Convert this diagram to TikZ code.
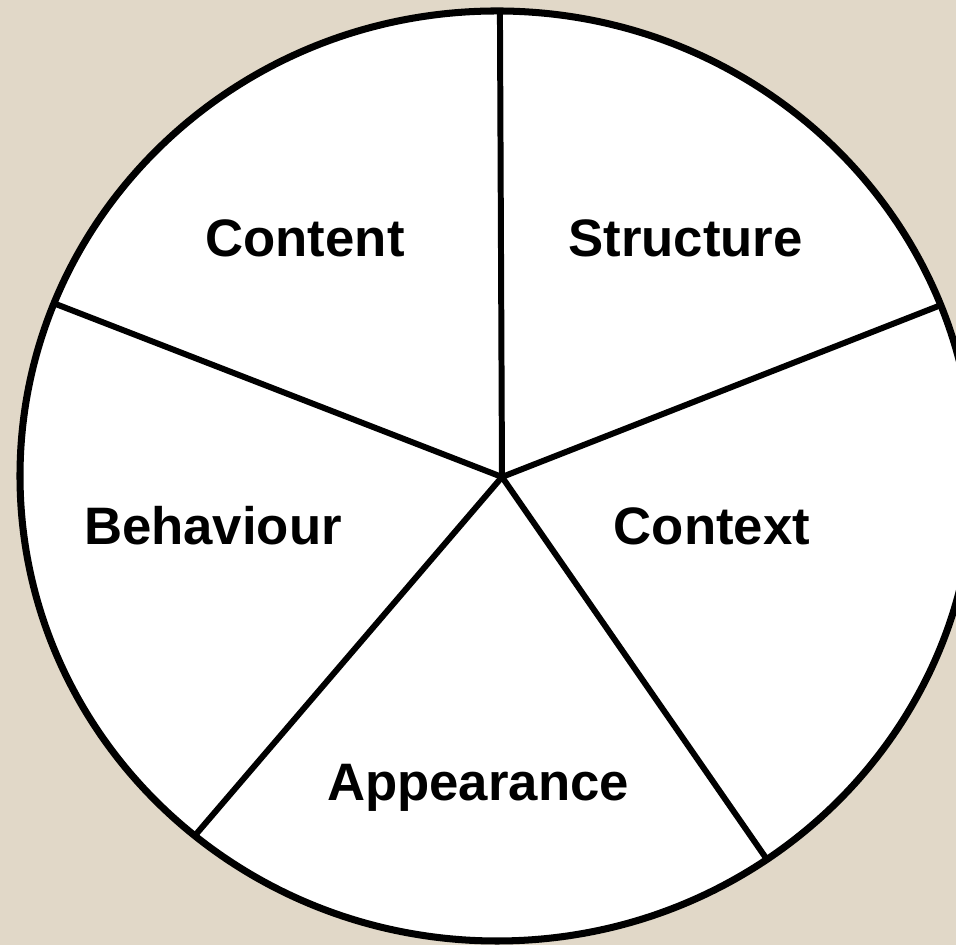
\documentclass[tikz,border=0pt]{standalone}
\usepackage{fontspec}
\setmainfont{Liberation Sans}
\usepackage{tikz}
\usetikzlibrary{positioning}
\definecolor{tanbg}{RGB}{225,216,200}

\begin{document}
\begin{tikzpicture}
        [every node/.style={font=\fontsize{15}{18}\selectfont\bfseries,anchor=base},
         rim/.style={line width=2pt},
         spoke/.style={line width=1.7pt}]
        \clip (0,0) rectangle (9.56,9.45);
        \fill[tanbg] (0,0) rectangle (9.56,9.45);
        \fill[white] (4.97,4.69) ellipse [x radius=4.77, y radius=4.65];

        \coordinate (hub) at (5.02, 4.68);
        \coordinate (top) at (4.998, 9.6);
        \coordinate (uright) at (9.59, 6.47);
        \coordinate (lright) at (7.77, 0.71);
        \coordinate (lleft) at (1.74, 0.85);
        \coordinate (uleft) at (0.35, 6.49);

        \begin{scope}
            \clip (4.97,4.69) ellipse [x radius=4.77, y radius=4.65];
            \foreach \to in {top, uright, lright, lleft, uleft}
                \draw[spoke] (hub) -- (\to);
        \end{scope}
        \draw[rim] (4.97,4.69) ellipse [x radius=4.77, y radius=4.65];

        \node (content) at (3.05, 6.88) {Content};
        \node (structure) at (6.855, 6.88) {Structure};
        \node (behaviour) at (2.13, 4.00) {Behaviour};
        \node (context) at (7.12, 4.00) {Context};
        \node (appearance) at (4.78, 1.44) {Appearance};

      \end{tikzpicture}
\end{document}
